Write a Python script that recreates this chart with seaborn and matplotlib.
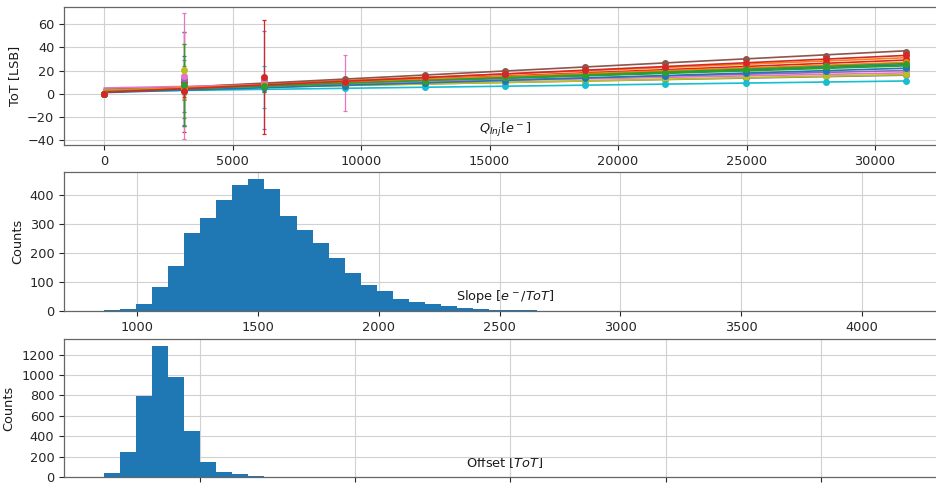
import numpy as np
import pandas as pd
import matplotlib
matplotlib.use("Agg")
import matplotlib.pyplot as plt
from matplotlib.ticker import MultipleLocator
import seaborn as sns

# ---------------- data ----------------
# injected charge steps [e-]
Q_INJ = [0, 3120, 6240, 9360, 12480, 15600, 18720, 21840, 24960, 28080, 31200]

# per-pixel linear calibration: ToT = Q / slope + offset
PIXEL_SLOPE = [1357, 1114, 1451, 1135, 1950, 897, 2400, 2496, 2311, 3467, 1486, 1289, 1289, 981]
PIXEL_OFFSET = [2.0, 3.0, 2.5, 1.5, 4.0, 2.2, 5.0, 3.5, 3.0, 2.0, 1.0, 2.8, 1.8, 1.2]

# measured mean ToT per pixel at each charge step
TOT_MEAN = [
    [0, 5.1, 6.2, 9.1, 11.0, 13.7, 15.6, 18.3, 20.2, 22.9, 24.8],
    [0, 6.5, 8.2, 11.6, 14.0, 17.2, 19.6, 22.8, 25.1, 28.4, 30.8],
    [0, 4.2, 7.3, 8.8, 11.3, 13.0, 15.6, 17.4, 19.9, 21.7, 24.1],
    [0, 10.2, 8.1, 9.9, 12.3, 15.5, 17.8, 21.0, 23.3, 26.5, 28.8],
    [0, 12.8, 11.9, 8.6, 10.6, 11.8, 13.8, 15.0, 17.0, 18.2, 20.1],
    [0, 5.9, 8.8, 12.4, 16.5, 19.3, 23.4, 26.2, 30.3, 32.9, 35.6],
    [0, 15.3, 9.0, 9.2, 10.0, 11.7, 12.6, 14.3, 15.2, 16.9, 17.8],
    [0, 3.9, 5.6, 7.4, 8.3, 9.9, 10.8, 12.4, 13.3, 14.9, 15.8],
    [0, 20.5, 5.9, 6.8, 8.6, 9.6, 11.3, 12.2, 14.0, 14.9, 16.6],
    [0, 3.1, 5.5, 4.6, 5.8, 6.3, 7.5, 8.1, 9.3, 9.9, 11.1],
    [0, 2.6, 5.4, 7.1, 9.6, 11.3, 13.8, 15.5, 18.0, 19.7, 22.2],
    [0, 4.7, 7.9, 9.8, 12.7, 14.6, 17.5, 19.5, 22.4, 24.3, 27.2],
    [0, 7.5, 6.4, 9.3, 11.2, 14.1, 16.1, 18.9, 20.9, 23.8, 25.8],
    [0, 2.2, 14.1, 10.5, 14.2, 16.8, 20.5, 23.2, 26.9, 29.5, 33.2],
]

# spread of ToT per pixel at each charge step
TOT_STD = [
    [0, 3.5, 1.2, 0.6, 0.5, 0.5, 0.5, 0.5, 0.5, 0.6, 0.6],
    [0, 12, 3.0, 0.7, 0.6, 0.6, 0.6, 0.6, 0.6, 0.7, 0.7],
    [0, 20, 2.0, 0.6, 0.5, 0.5, 0.5, 0.5, 0.5, 0.6, 0.6],
    [0, 43, 2.5, 0.7, 0.6, 0.6, 0.6, 0.6, 0.6, 0.7, 0.7],
    [0, 40, 42, 0.6, 0.5, 0.5, 0.5, 0.5, 0.5, 0.6, 0.6],
    [0, 6.0, 2.0, 0.8, 0.7, 0.7, 0.7, 0.7, 0.7, 0.8, 0.8],
    [0, 54, 6.0, 24, 0.5, 0.5, 0.5, 0.5, 0.5, 0.5, 0.6],
    [0, 25, 4.0, 0.5, 0.5, 0.5, 0.5, 0.5, 0.5, 0.5, 0.5],
    [0, 22, 3.0, 0.5, 0.5, 0.5, 0.5, 0.5, 0.5, 0.5, 0.5],
    [0, 8.0, 18, 0.4, 0.4, 0.4, 0.4, 0.4, 0.4, 0.4, 0.4],
    [0, 30, 3.0, 0.6, 0.5, 0.5, 0.5, 0.5, 0.5, 0.6, 0.6],
    [0, 9.0, 2.0, 0.6, 0.5, 0.5, 0.5, 0.5, 0.5, 0.6, 0.6],
    [0, 35, 5.0, 0.6, 0.5, 0.5, 0.5, 0.5, 0.5, 0.6, 0.6],
    [0, 5.0, 49, 0.7, 0.6, 0.6, 0.6, 0.6, 0.6, 0.7, 0.7],
]

# slope histogram over all pixels [e-/ToT]
SLOPE_RANGE = (864, 4181)
SLOPE_COUNTS = [2, 7, 25, 82, 157, 270, 322, 385, 437, 458,
                421, 329, 282, 236, 183, 132, 90, 68, 43, 31,
                25, 17, 12, 6, 4, 3, 2, 1, 0, 0,
                0, 0, 0, 0, 0, 0, 0, 0, 0, 0,
                0, 0, 0, 0, 0, 0, 0, 0, 0, 1]

# offset histogram over all pixels [ToT]
OFFSET_RANGE = (0.382, 5.548)
OFFSET_COUNTS = [35, 245, 796, 1288, 981, 447, 143, 49, 26, 13,
                 4, 3, 2, 3, 2, 2, 2, 0, 2, 2,
                 3, 1, 2, 0, 2, 1, 1, 2, 1, 0,
                 1, 1, 1, 0, 1, 0, 1, 1, 0, 0,
                 0, 0, 1, 0, 1, 0, 0, 0, 0, 1]

# ---------------- style ----------------
sns.set_theme(style="whitegrid")
plt.rcParams.update({
    "font.family": ["DejaVu Sans"],
    "font.size": 9.3,
    "axes.labelsize": 9.3,
    "xtick.labelsize": 9.3,
    "ytick.labelsize": 9.3,
    "axes.edgecolor": "0.4",
    "axes.linewidth": 0.9,
    "grid.color": "0.82",
    "grid.linewidth": 0.8,
    "xtick.bottom": True,
    "ytick.left": True,
    "xtick.major.size": 3.5,
    "ytick.major.size": 3.5,
    "xtick.major.width": 0.8,
    "ytick.major.width": 0.8,
    "xtick.color": "0.15",
    "ytick.color": "0.15",
    "text.color": "0.1",
    "axes.labelcolor": "0.1",
})

BAR_COLOR = "#1f77b4"
tab10 = sns.color_palette("tab10", 10)

fig = plt.figure(figsize=(9.37, 4.88), dpi=100)
ax_tot = fig.add_axes([0.0683, 0.7029, 0.9413, 0.2828])
ax_slope = fig.add_axes([0.0683, 0.3627, 0.9413, 0.2848])
ax_off = fig.add_axes([0.0683, 0.0225, 0.9413, 0.2828])

# ---------------- ToT vs injected charge ----------------
q_arr = np.array(Q_INJ, dtype=float)
fit_rows = []
for i, (s, o) in enumerate(zip(PIXEL_SLOPE, PIXEL_OFFSET)):
    for q in (q_arr[0], q_arr[-1]):
        fit_rows.append({"pixel": i, "Q": q, "ToT": q / s + o})
fit_df = pd.DataFrame(fit_rows)
colors = [tab10[i % 10] for i in range(len(PIXEL_SLOPE))]

sns.lineplot(data=fit_df, x="Q", y="ToT", hue="pixel", palette=colors,
             legend=False, linewidth=1.2, ax=ax_tot, zorder=2)
for i, (m, e) in enumerate(zip(TOT_MEAN, TOT_STD)):
    ax_tot.errorbar(q_arr, m, yerr=e, fmt="o", ms=4, capsize=1.5,
                    elinewidth=0.9, capthick=0.9, color=colors[i], zorder=3)

ax_tot.set_ylabel("ToT [LSB]")
ax_tot.set_xlabel(r"$Q_{Inj}[e^-]$")
ax_tot.yaxis.set_major_locator(MultipleLocator(20))

# ---------------- slope histogram ----------------
def bin_centres(lo, hi, n):
    edges = np.linspace(lo, hi, n + 1)
    return 0.5 * (edges[:-1] + edges[1:])

slope_x = bin_centres(*SLOPE_RANGE, len(SLOPE_COUNTS))
sns.histplot(x=slope_x, weights=SLOPE_COUNTS, bins=len(SLOPE_COUNTS),
             binrange=SLOPE_RANGE, color=BAR_COLOR, alpha=1.0, linewidth=0,
             ax=ax_slope)
ax_slope.set_ylabel("Counts")
ax_slope.set_xlabel(r"Slope [$e^-/ToT$]")
ax_slope.yaxis.set_major_locator(MultipleLocator(100))
ax_slope.xaxis.set_major_locator(MultipleLocator(500))

# ---------------- offset histogram ----------------
off_x = bin_centres(*OFFSET_RANGE, len(OFFSET_COUNTS))
sns.histplot(x=off_x, weights=OFFSET_COUNTS, bins=len(OFFSET_COUNTS),
             binrange=OFFSET_RANGE, color=BAR_COLOR, alpha=1.0, linewidth=0,
             ax=ax_off)
ax_off.set_ylabel("Counts")
ax_off.set_xlabel(r"Offset [$ToT$]")
ax_off.yaxis.set_major_locator(MultipleLocator(200))
ax_off.xaxis.set_major_locator(MultipleLocator(1))

for ax in (ax_tot, ax_slope, ax_off):
    ax.set_xmargin(0.05)
    ax.set_ymargin(0.05)
    ax.autoscale_view()
    ax.grid(True)
    ax.set_axisbelow(True)
    ax.xaxis.set_label_coords(0.5, 0.105)
    ax.xaxis.label.set_va("center")

fig.savefig("out.png", dpi=100)
